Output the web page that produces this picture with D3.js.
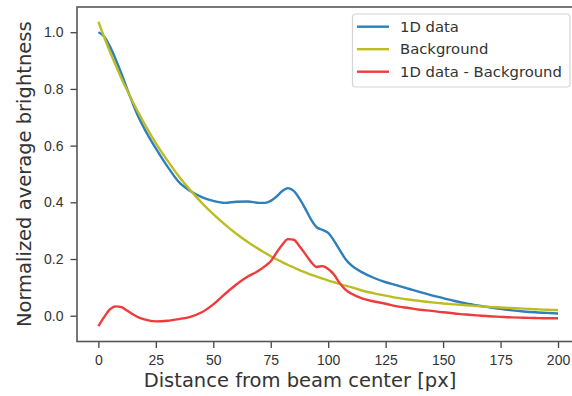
<!DOCTYPE html>
<html lang="en">
<head>
    <meta charset="UTF-8">
    <title>Radial profile</title>
    <style>
        body { margin: 0; background: #fff; }
        svg { display: block; font-family: "DejaVu Sans", sans-serif; }
    </style>
</head>
<body>
    <div id="chart"></div>
    <script src="https://d3js.org/d3.v7.min.js"></script>
    <script>
        // values
        const distance = [0, 2.5, 5, 7.5, 10, 12.5, 15, 17.5, 20, 25, 30, 35, 40, 45, 50, 55, 60, 65, 70,
            72.5, 75, 77.5, 80, 82.5, 85, 87.5, 90, 92.5, 95, 97.5, 100, 102.5, 105, 107.5, 110,
            115, 120, 125, 130, 135, 140, 145, 150, 155, 160, 165, 170, 175, 180, 185, 190, 195, 200];

        const data1d = [1.000, 0.985, 0.950, 0.905, 0.855, 0.800, 0.748, 0.700, 0.660, 0.590, 0.527, 0.472, 0.440,
            0.418, 0.405, 0.398, 0.402, 0.403, 0.398,
            0.398, 0.405, 0.420, 0.440, 0.450, 0.440, 0.413, 0.378, 0.340, 0.312, 0.303, 0.292, 0.265, 0.232, 0.200, 0.178,
            0.152, 0.133, 0.118, 0.107, 0.095, 0.083, 0.072, 0.062, 0.052, 0.043, 0.036, 0.030, 0.024, 0.019, 0.015, 0.012, 0.010, 0.008];

        const background = [1.037, 0.983, 0.932, 0.884, 0.838, 0.795, 0.754, 0.715, 0.678, 0.609, 0.548, 0.492, 0.443,
            0.398, 0.358, 0.322, 0.289, 0.260, 0.234,
            0.222, 0.210, 0.199, 0.189, 0.179, 0.170, 0.161, 0.153, 0.145, 0.138, 0.131, 0.124, 0.118, 0.112, 0.106, 0.101,
            0.088, 0.079, 0.071, 0.063, 0.057, 0.052, 0.047, 0.043, 0.040, 0.037, 0.034, 0.031, 0.029, 0.027, 0.025, 0.023, 0.021, 0.020];

        const subtracted = [-0.037, -0.005, 0.022, 0.033, 0.030, 0.018, 0.005, -0.006, -0.013, -0.020, -0.018, -0.012, -0.004,
            0.012, 0.040, 0.076, 0.110, 0.138, 0.160,
            0.175, 0.192, 0.222, 0.250, 0.270, 0.268, 0.245, 0.218, 0.190, 0.172, 0.175, 0.165, 0.145, 0.115, 0.092, 0.078,
            0.060, 0.050, 0.042, 0.033, 0.027, 0.021, 0.017, 0.012, 0.008, 0.004, 0.001, -0.002, -0.004, -0.006, -0.007, -0.008, -0.009, -0.009];

        const xTicks = [0, 25, 50, 75, 100, 125, 150, 175, 200];
        const yTicks = [0.0, 0.2, 0.4, 0.6, 0.8, 1.0];

        const series = [
            { name: "1D data", values: data1d, color: "#2f7fba" },
            { name: "Background", values: background, color: "#bcbd22" },
            { name: "1D data - Background", values: subtracted, color: "#ee3b3b" }
        ];

        const width = 572, height = 396;
        const plotLeft = 77, plotTop = 7, plotRight = 581, plotBottom = 341.5;

        const x = d3.scaleLinear().domain([-9.3, 210]).range([plotLeft, plotRight]);
        const y = d3.scaleLinear().domain([-0.091, 1.089]).range([plotBottom, plotTop]);

        const svg = d3.select("#chart")
            .append("svg")
            .attr("width", width)
            .attr("height", height);

        svg.append("defs").append("clipPath")
            .attr("id", "plot")
            .append("rect")
            .attr("x", plotLeft).attr("y", plotTop)
            .attr("width", plotRight - plotLeft).attr("height", plotBottom - plotTop);

        const line = d3.line()
            .curve(d3.curveMonotoneX)
            .x(d => x(d[0]))
            .y(d => y(d[1]));

        svg.append("g")
            .attr("clip-path", "url(#plot)")
            .selectAll("path")
            .data(series)
            .enter()
            .append("path")
            .attr("d", s => line(distance.map((dx, i) => [dx, s.values[i]])))
            .attr("fill", "none")
            .attr("stroke", s => s.color)
            .attr("stroke-width", 2.4)
            .attr("stroke-linejoin", "round");

        const xAxis = svg.append("g")
            .attr("transform", `translate(0,${plotBottom})`)
            .call(d3.axisBottom(x).tickValues(xTicks).tickSize(6.5).tickPadding(7).tickFormat(d3.format("d")));

        const yAxis = svg.append("g")
            .attr("transform", `translate(${plotLeft},0)`)
            .call(d3.axisLeft(y).tickValues(yTicks).tickSize(6.5).tickPadding(7).tickFormat(d3.format(".1f")));

        [xAxis, yAxis].forEach(a => {
            a.select(".domain").remove();
            a.selectAll(".tick line").attr("stroke", "#444").attr("stroke-width", 1.3);
            a.selectAll(".tick text").attr("fill", "#333").style("font-size", "14px");
        });

        // frame
        svg.append("rect")
            .attr("x", plotLeft).attr("y", plotTop)
            .attr("width", plotRight - plotLeft).attr("height", plotBottom - plotTop)
            .attr("fill", "none")
            .attr("stroke", "#555")
            .attr("stroke-width", 1.6);

        svg.append("text")
            .attr("x", 300)
            .attr("y", 386.5)
            .attr("text-anchor", "middle")
            .attr("fill", "#333")
            .style("font-size", "19.5px")
            .text("Distance from beam center [px]");

        svg.append("text")
            .attr("transform", `translate(31,${(plotTop + plotBottom) / 2}) rotate(-90)`)
            .attr("text-anchor", "middle")
            .attr("fill", "#333")
            .style("font-size", "19.5px")
            .text("Normalized average brightness");

        // legend
        const legend = svg.append("g");
        legend.append("rect")
            .attr("x", 352.5).attr("y", 14)
            .attr("width", 217.5).attr("height", 73)
            .attr("rx", 3.5)
            .attr("fill", "#fff")
            .attr("fill-opacity", 0.8)
            .attr("stroke", "#d4d4d4")
            .attr("stroke-width", 1.2);

        const item = legend.selectAll(".item")
            .data(series)
            .enter()
            .append("g")
            .attr("class", "item")
            .attr("transform", (d, i) => `translate(0,${26.7 + i * 22.5})`);

        item.append("line")
            .attr("x1", 357).attr("x2", 389)
            .attr("stroke", d => d.color)
            .attr("stroke-width", 2.4);

        item.append("text")
            .attr("x", 400)
            .attr("dy", "0.35em")
            .attr("fill", "#333")
            .style("font-size", "14.8px")
            .text(d => d.name);
    </script>
</body>
</html>
